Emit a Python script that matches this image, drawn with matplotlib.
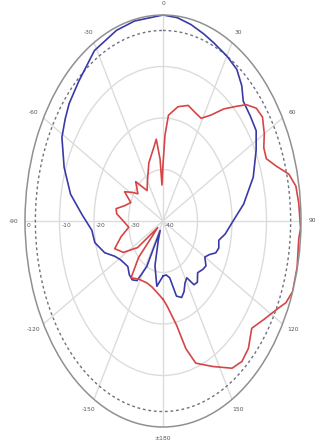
import matplotlib
matplotlib.use('Agg')
import numpy as np
import matplotlib.pyplot as plt
from matplotlib.transforms import offset_copy

# pattern data, angle in degrees (0 = top, clockwise), gain in dB
blue_deg = [-180, -172, -165, -160, -156, -152, -147, -142, -137, -131, -126, -121,
            -116, -110, -102, -95, -87, -79, -70, -61, -55, -50, -42, -31, -20, -12,
            0, 6, 12, 18, 23, 30, 36, 41, 45, 51, 57, 63, 72, 82, 91, 98, 103, 108,
            112, 116, 120, 125, 129, 135, 140, 144, 148, 152, 156, 160, 165, 170, 175, 180]
blue_db = [-29.3, -27.2, -31, -36, -38, -30, -26.2, -25.5, -25.7, -26.5, -26.1, -25.5,
           -24.4, -22, -19.8, -19.3, -16.5, -12.7, -9.5, -6.5, -5.4, -4.5, -3.5, -1.4, -0.6, -0.3,
           0, -0.3, -1, -1.8, -2.4, -3, -3.6, -5.2, -7.1, -7.5, -7.8, -9.7, -12.5, -16.4, -20, -21.8, -23.4, -23,
           -23.5, -25.1, -26, -24.8, -25.1, -25.8, -24.5, -24.7, -27, -26.4, -25, -24.2, -24.9, -28.8, -29.5, -29.3]

red_deg = [-180, -173, -166, -159, -148, -140, -135, -130, -125, -118, -111, -104, -97,
           -90, -84, -80, -75, -69, -63, -58, -54, -46, -38, -30, -20, -11, -7, -4, -2.5,
           0, 2, 4.4, 11, 18, 23, 29, 34, 39, 44, 47, 51, 55, 60, 64, 68, 72, 76, 80, 85,
           92, 95, 103, 110, 114, 117, 123, 129, 135, 140, 145, 153, 161, 165, 169, 176, 180]
red_db = [-24.8, -26, -26.8, -27.1, -26.7, -25.6, -30, -38, -31, -27, -25, -27.5, -30,
          -28.5, -26.5, -26.2, -28.5, -30, -27.5, -29.5, -31, -29, -32.5, -31, -28, -25.6, -24, -28, -33,
          -29, -23.3, -19.4, -17.4, -16.4, -16.9, -17.2, -15.2, -12, -9, -6.9, -5.2, -4.8, -6.1, -7.5, -7.7, -5.5, -2.4, -0.9, -0.5,
          -0.1, -0.5, -0.1, 0, -1, -2.6, -5, -6.9, -5, -4.4, -5.1, -8.3, -10.8, -14.3, -19.4, -23.5, -24.8]

ref_db = -3
ring_db = [-30, -20, -10]
rlabel_db = [0, -10, -20, -30, -40]
theta_ticks = [0, 30, 60, 90, 120, 150, 180, 210, 240, 270, 300, 330]
theta_labels = ['0', '30', '60', '90', '120', '150', '\u00b1180',
                '-150', '-120', '-90', '-60', '-30']

fig = plt.figure(figsize=(3.18, 4.41), dpi=100)
ax = fig.add_axes([25/318, 14/441, 276/318, 412/441], projection='polar')
ax.set_aspect('auto')
ax.set_theta_zero_location('N')
ax.set_theta_direction(-1)
ax.set_ylim(-40, 0)
ax.set_yticks(ring_db)
ax.set_yticklabels([])
ax.set_xticks(np.radians(theta_ticks))
ax.set_xticklabels(theta_labels, fontsize=4.3, color='#555555')
ax.tick_params(axis='x', pad=-2)
ax.grid(color='#dcdcdc', lw=1.0)
ax.spines['polar'].set_color('#909090')
ax.spines['polar'].set_linewidth(1.1)

circ = np.linspace(0, 2*np.pi, 361)
ax.plot(circ, np.full(circ.shape, ref_db), ls=(0, (2, 2)), color='#707080', lw=1.0)

ax.plot(np.radians(blue_deg), blue_db, color='#3a3aa6', lw=1.2)
ax.plot(np.radians(red_deg), red_db, color='#d64545', lw=1.2)

tr = offset_copy(ax.transData, fig=fig, x=1.5, y=-1.5, units='points')
for r in rlabel_db:
    ax.text(np.radians(-90), r, str(r), transform=tr, ha='left', va='top',
            fontsize=4.3, color='#555555')

fig.savefig('out.png', dpi=100)
